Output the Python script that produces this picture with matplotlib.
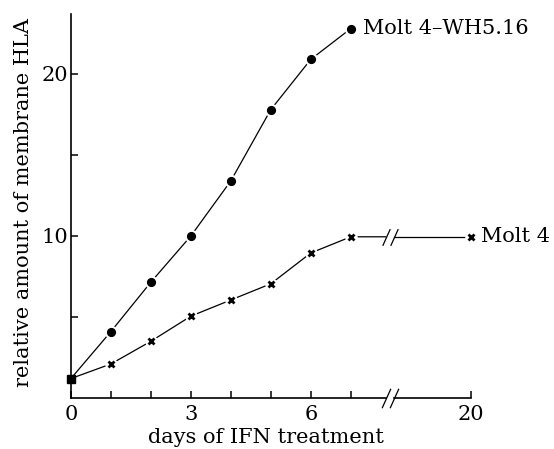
import matplotlib.pyplot as plt
from matplotlib.ticker import FixedLocator

plt.rcParams['font.family'] = 'DejaVu Serif'

# days of IFN treatment (day 20 is drawn after the axis break, at position 10)
days_wh = [1, 2, 3, 4, 5, 6, 7]
hla_wh = [4.1, 7.15, 10.0, 13.4, 17.8, 20.9, 22.8]
days_molt = [1, 2, 3, 4, 5, 6, 7]
hla_molt = [2.1, 3.5, 5.05, 6.05, 7.05, 8.95, 9.95]
day20_pos = 10
hla_molt_20 = 9.95
start_day = 0
start_hla = 1.2

x_major = [0, 3, 6, 10]
x_major_labels = ['0', '3', '6', '20']
x_minor = [1, 2, 4, 5, 7]
y_major = [10, 20]
y_minor = [5, 15]

fig = plt.figure(figsize=(5.54, 4.49), dpi=100)
ax = fig.add_axes([0.128, 0.1136, 0.866, 0.866])
ax.set_xlim(0, 12)
ax.set_ylim(0, 24)

lw = 0.9
slash = [(-0.45, -1), (0.45, 1)]
brk_a, brk_b = 7.87, 8.07

# Molt 4-WH5.16
ax.plot([start_day] + days_wh, [start_hla] + hla_wh, color='black', lw=lw, zorder=2)
ax.plot(days_wh, hla_wh, 'o', ms=8.5, color='white', zorder=3)
ax.plot(days_wh, hla_wh, 'o', ms=5.6, color='black', zorder=4)

# Molt 4
ax.plot([start_day] + days_molt + [brk_a], [start_hla] + hla_molt + [hla_molt[-1]],
        color='black', lw=lw, zorder=2)
ax.plot([brk_b, day20_pos], [hla_molt_20, hla_molt_20], color='black', lw=lw, zorder=2)
ax.plot(days_molt + [day20_pos], hla_molt + [hla_molt_20], 'o', ms=8, color='white', zorder=3)
ax.plot(days_molt + [day20_pos], hla_molt + [hla_molt_20], 'x', ms=4.5, mew=2,
        color='black', zorder=4)
ax.plot([brk_a, brk_b], [hla_molt[-1], hla_molt_20], ls='none', marker=slash, ms=12,
        mew=0.9, color='black', zorder=4)

# start point
ax.plot([start_day], [start_hla], 's', ms=6, color='black', zorder=5, clip_on=False)

# axes
for s in ['top', 'right', 'bottom']:
    ax.spines[s].set_visible(False)
ax.spines['left'].set_bounds(0, 23.7)
ax.spines['left'].set_linewidth(1.2)
ax.plot([0, brk_a], [0, 0], color='black', lw=1.2, clip_on=False, zorder=1)
ax.plot([brk_b, day20_pos], [0, 0], color='black', lw=1.2, clip_on=False, zorder=1)
ax.plot([brk_a, brk_b], [0, 0], ls='none', marker=slash, ms=14, mew=0.9,
        color='black', clip_on=False)

ax.xaxis.set_major_locator(FixedLocator(x_major))
ax.set_xticklabels(x_major_labels)
ax.xaxis.set_minor_locator(FixedLocator(x_minor))
ax.yaxis.set_major_locator(FixedLocator(y_major))
ax.yaxis.set_minor_locator(FixedLocator(y_minor))
ax.tick_params(which='both', direction='in', length=5, width=1.1, labelsize=15, pad=5)
ax.tick_params(axis='y', pad=2)

ax.set_xlabel('days of IFN treatment', fontsize=15)
ax.xaxis.set_label_coords(0.406, -0.078)
ax.set_ylabel('relative amount of membrane HLA', fontsize=15)
ax.yaxis.set_label_coords(-0.08, 0.503)

ax.text(days_wh[-1] + 0.3, hla_wh[-1], 'Molt 4–WH5.16', fontsize=15, va='center', ha='left')
ax.text(day20_pos + 0.25, hla_molt_20, 'Molt 4', fontsize=15, va='center', ha='left')

fig.savefig('out.png', dpi=100)
